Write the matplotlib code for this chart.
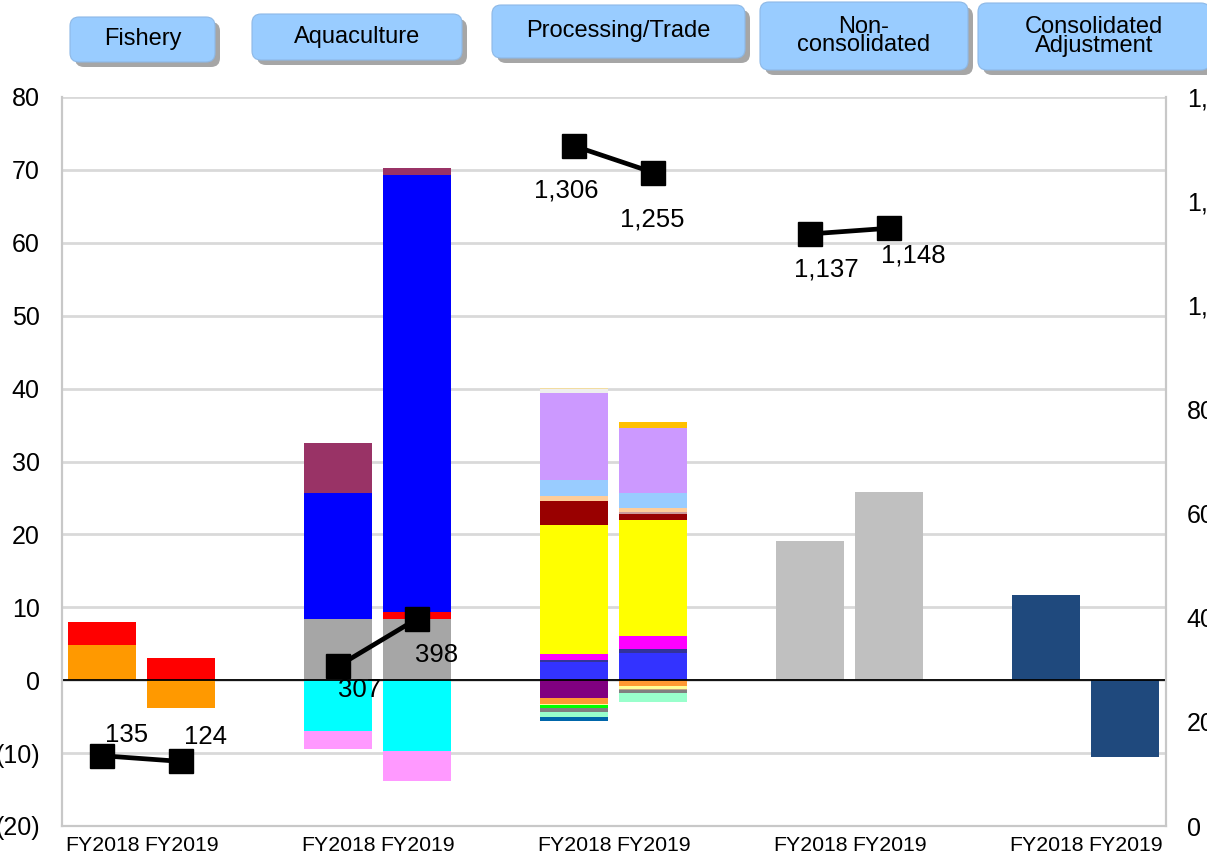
import matplotlib
matplotlib.use("Agg")
import matplotlib.pyplot as plt
from matplotlib.patches import FancyBboxPatch
from matplotlib.transforms import IdentityTransform
from matplotlib.ticker import FuncFormatter, MultipleLocator

plt.rcParams['font.family'] = ['Liberation Sans', 'DejaVu Sans']

# segments / years
years = ['FY2018', 'FY2019']
segments = ['Fishery', 'Aquaculture', 'Processing/Trade', 'Non-\nconsolidated', 'Consolidated\nAdjustment']

# stacked components, values per year (FY2018, FY2019), billion yen
fishery_parts = {
    'orange': [4.8, -3.8],
    'red': [3.2, 3.0],
}
aqua_parts = {
    'gray': [8.4, 8.4],
    'red': [0.0, 0.9],
    'blue': [17.3, 60.0],
    'maroon': [6.9, 0.9],
    'cyan': [-7.0, -9.7],
    'pink': [-2.5, -4.1],
}
proc_parts = {
    'blue': [2.47, 3.75],
    'navy': [0.27, 0.55],
    'magenta': [0.83, 1.74],
    'yellow': [17.73, 15.96],
    'darkred': [3.3, 0.86],
    'rose': [0.0, 0.2],
    'peach': [0.68, 0.55],
    'lightblue': [2.25, 2.06],
    'lavender': [11.8, 8.9],
    'lightgray': [0.55, 0.0],
    'tan': [0.27, 0.0],
    'gold': [0.0, 0.9],
    'purple': [-2.51, 0.0],
    'orange': [-0.69, -0.78],
    'lightyellow': [-0.14, -0.36],
    'green': [-0.41, 0.0],
    'khaki': [0.0, -0.23],
    'darkgray': [-0.68, -0.37],
    'mint': [-0.6, -1.23],
    'teal': [-0.55, 0.0],
}
noncons_values = [19.1, 25.8]
adjust_values = [11.7, -10.6]

# line series on right axis
fishery_line = [135, 124]
aqua_line = [307, 398]
proc_line = [1306, 1255]
noncons_line = [1137, 1148]

colors = {
    'orange': '#FF9900', 'red': '#FF0000', 'gray': '#A6A6A6', 'blue': '#0000FF',
    'maroon': '#993366', 'cyan': '#00FFFF', 'pink': '#FF99FF',
    'navy': '#333399', 'magenta': '#FF00FF', 'yellow': '#FFFF00', 'darkred': '#990000',
    'rose': '#CC9999', 'peach': '#FFCC99', 'lightblue': '#99CCFF', 'lavender': '#CC99FF',
    'lightgray': '#EEEEEE', 'tan': '#F2DCA0', 'gold': '#FFC000', 'purple': '#800080',
    'lightyellow': '#FFFF99', 'green': '#00FF00', 'khaki': '#C4A484', 'darkgray': '#808080',
    'mint': '#99FFCC', 'teal': '#0066AA',
}
proc_colors = dict(colors, blue='#3333FF', orange='#FF9933')

W = 0.288
OFF = 0.1675

fig = plt.figure(figsize=(12.07, 8.65), dpi=100)
ax = fig.add_axes([62 / 1207, 39 / 865, 1104 / 1207, 729 / 865])
ax2 = ax.twinx()


def stack(xc, parts, cmap):
    pos = [0.0, 0.0]
    neg = [0.0, 0.0]
    for name, vals in parts.items():
        for i, v in enumerate(vals):
            if v == 0:
                continue
            x = xc + (i * 2 - 1) * OFF
            if v > 0:
                ax.bar(x, v, W, bottom=pos[i], color=cmap[name], zorder=2)
                pos[i] += v
            else:
                ax.bar(x, v, W, bottom=neg[i], color=cmap[name], zorder=2)
                neg[i] += v


stack(0, fishery_parts, colors)
stack(1, aqua_parts, colors)
stack(2, proc_parts, proc_colors)
for i in range(2):
    ax.bar(3 + (i * 2 - 1) * OFF, noncons_values[i], W, color='#C0C0C0', zorder=2)
    ax.bar(4 + (i * 2 - 1) * OFF, adjust_values[i], W, color='#1F497D', zorder=2)

ax.axhline(0, color='black', lw=1.3, zorder=3)

ax.set_xlim(-0.337, 4.34)
ax.set_ylim(-20, 80)
ax.yaxis.set_major_locator(MultipleLocator(10))
ax.yaxis.set_major_formatter(FuncFormatter(lambda v, p: f'({abs(v):.0f})' if v < 0 else f'{v:.0f}'))
ax.grid(axis='y', color='#D9D9D9', lw=2, zorder=0)
ax.set_axisbelow(True)

xt = []
for g in range(5):
    xt += [g - OFF, g + OFF]
ax.set_xticks(xt)
ax.set_xticklabels(years * 5, fontsize=15.3)
ax.tick_params(axis='x', length=0, pad=7)
ax.tick_params(axis='y', length=0, labelsize=18, pad=16)

ax2.set_ylim(0, 1400)
ax2.yaxis.set_major_locator(MultipleLocator(200))
ax2.yaxis.set_major_formatter(FuncFormatter(lambda v, p: f'{v:,.0f}'))
ax2.tick_params(axis='y', length=0, labelsize=18, pad=15)

for a in (ax, ax2):
    for s in a.spines.values():
        s.set_color('#C8C8C8')
        s.set_linewidth(1.5)
    a.spines['top'].set_visible(False)

lines = [fishery_line, aqua_line, proc_line, noncons_line]
label_offsets = [
    [(25, 21), (24, 24)],
    [(22, -24), (19, -36)],
    [(-8, -45), (-1, -47)],
    [(16, -36), (24, -27)],
]
for g, vals in enumerate(lines):
    xs = [g - OFF, g + OFF]
    ax2.plot(xs, vals, color='black', lw=3.4, marker='s', markersize=17, zorder=5)
    for x, v, off in zip(xs, vals, label_offsets[g]):
        ax2.annotate(f'{v:,}', (x, v), xytext=off, textcoords='offset pixels',
                     ha='center', va='center', fontsize=18.5)

# header boxes (pixel coords from top-left)
boxes = [
    (70, 17, 145, 45, 'Fishery'),
    (252, 14, 210, 46, 'Aquaculture'),
    (492, 5, 253, 53, 'Processing/Trade'),
    (760, 2, 208, 68, 'Non-\nconsolidated'),
    (978, 3, 232, 67, 'Consolidated\nAdjustment'),
]
H = 865
for (x, y, w, h, txt) in boxes:
    shadow = FancyBboxPatch((x + 5, H - y - h - 5), w, h, boxstyle='round,pad=0,rounding_size=9',
                            transform=IdentityTransform(), fc='#A6A6A6', ec='none')
    box = FancyBboxPatch((x, H - y - h), w, h, boxstyle='round,pad=0,rounding_size=9',
                         transform=IdentityTransform(), fc='#99CCFF', ec='#8DB8E6', lw=0.8)
    fig.add_artist(shadow)
    fig.add_artist(box)
    fig.text((x + w / 2) / 1207, 1 - (y + h / 2) / H, txt, ha='center', va='center',
             fontsize=17, linespacing=0.8)

fig.savefig('out.png', dpi=100)
